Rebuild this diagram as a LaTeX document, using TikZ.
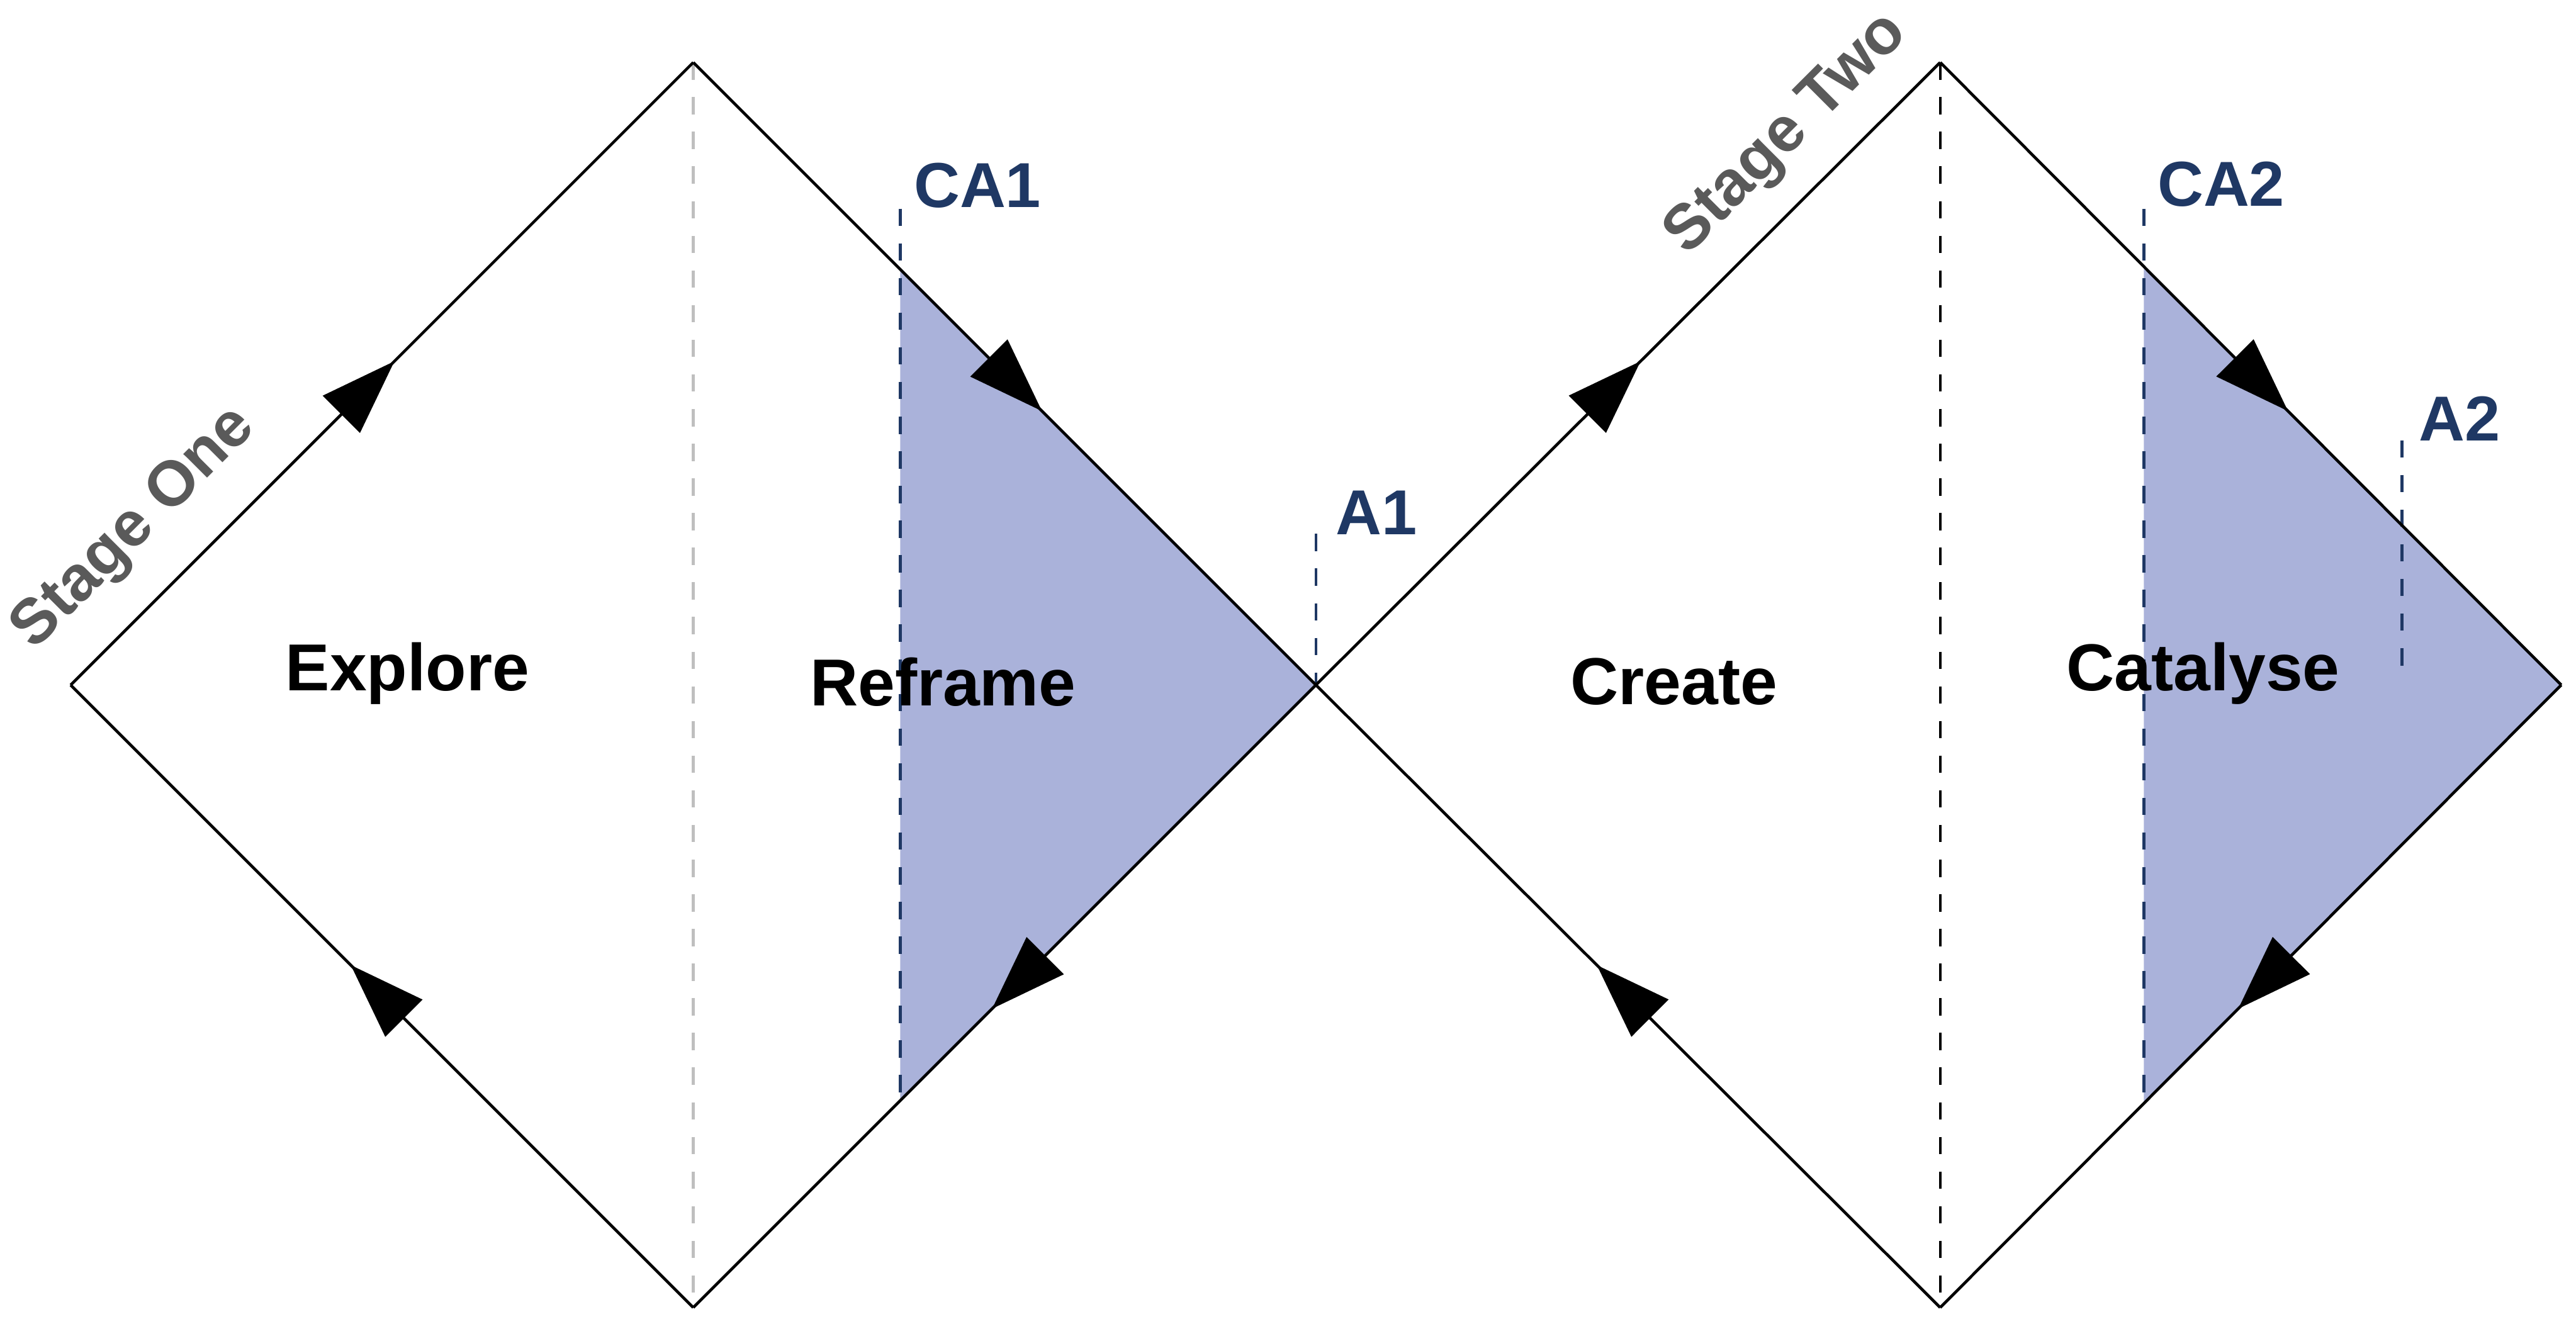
\documentclass[tikz,border=0pt]{standalone}
\usepackage{fontspec}
\setmainfont{Liberation Sans}
\usetikzlibrary{arrows.meta,decorations.markings}
\definecolor{fillcol}{HTML}{AAB2DA}
\definecolor{navy}{HTML}{1F3864}
\definecolor{stg}{HTML}{5A5A5A}
\begin{document}
\begin{tikzpicture}[x=0.01cm,y=-0.01cm,
  edge/.style={line width=0.5pt,black},
  mk/.style={postaction={decorate},decoration={markings,mark=at position #1 with {\arrow{Triangle[length=13pt,width=9pt]}}}},
  lbl/.style={font=\fontsize{11.5}{14}\selectfont\bfseries},
  tag/.style={font=\fontsize{11}{14}\selectfont\bfseries,text=navy},
  stage/.style={font=\fontsize{11}{14}\selectfont\bfseries,text=stg,rotate=45},
  nd/.style={navy,dashed,line width=0.5pt}]
\useasboundingbox (0,0) rectangle (1568,806);
\coordinate (L1) at (43,417); \coordinate (T1) at (422,38);
\coordinate (B1) at (422,796); \coordinate (R1) at (801,417);
\coordinate (T2) at (1181,38); \coordinate (B2) at (1181,796);
\coordinate (R2) at (1559,417);
\fill[fillcol] (548,164) -- (R1) -- (548,670) -- cycle;
\fill[fillcol] (1305,162) -- (R2) -- (1305,671) -- cycle;
\draw[gray!50,dashed,line width=0.5pt] (T1) -- (B1);
\draw[black,dashed,line width=0.5pt] (T2) -- (B2);
\draw[nd] (548,127) -- (548,666);
\draw[nd] (1305,127) -- (1305,666);
\draw[nd] (801,325) -- (801,417);
\draw[nd] (1462,268) -- (1462,415);
\draw[edge,mk=0.52] (L1) -- (T1);
\draw[edge,mk=0.56] (T1) -- (R1);
\draw[edge,mk=0.52] (R1) -- (B1);
\draw[edge,mk=0.55] (B1) -- (L1);
\draw[edge,mk=0.52] (R1) -- (T2);
\draw[edge,mk=0.56] (T2) -- (R2);
\draw[edge,mk=0.52] (R2) -- (B2);
\draw[edge,mk=0.55] (B2) -- (R1);
\node[lbl] (ex) at (248,410) {Explore};
\node[lbl] (rf) at (574,415) {Reframe};
\node[lbl] (cr) at (1019,415) {Create};
\node[lbl] (ca) at (1341,410) {Catalyse};
\node[tag] (ca1) at (595,113) {CA1};
\node[tag] (a1) at (838,312) {A1};
\node[tag] (ca2) at (1352,112) {CA2};
\node[tag] (a2) at (1497,255) {A2};
\node[stage] (s1) at (82,322) {Stage One};
\node[stage] (s2) at (1088,82) {Stage Two};
\end{tikzpicture}
\end{document}
